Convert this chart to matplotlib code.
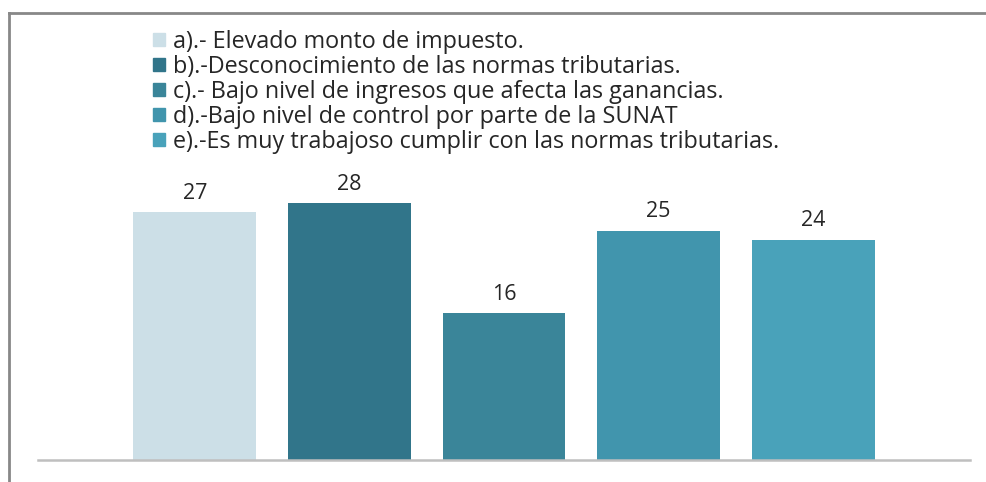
import matplotlib as mpl
mpl.use('Agg')
import matplotlib.pyplot as plt
from matplotlib.lines import Line2D
import numpy as np

plt.rcParams['font.family'] = ['Open Sans', 'DejaVu Sans']

labels = [
    'a).- Elevado monto de impuesto.',
    'b).-Desconocimiento de las normas tributarias.',
    'c).- Bajo nivel de ingresos que afecta las ganancias.',
    'd).-Bajo nivel de control por parte de la SUNAT',
    'e).-Es muy trabajoso cumplir con las normas tributarias.',
]
values = [27, 28, 16, 25, 24]
colors = ['#CCDFE7', '#31758A', '#3A8599', '#4195AD', '#49A2BA']

W, H = 986, 482
fig = plt.figure(figsize=(W / 100, H / 100), dpi=100)
ax = fig.add_axes([38 / W, 22 / H, 932 / W, 446 / H])

x = np.arange(len(values))
bars = ax.bar(x, values, 0.796, color=colors, edgecolor='none')
for xi, v in zip(x, values):
    ax.annotate(str(v), (xi, v), xytext=(0, 6), textcoords='offset points',
                ha='center', va='bottom', fontsize=15.5, color='#262626')

ax.set_xlim(-1.016, 5.016)
ax.set_ylim(0, 48.6)
for s in ['top', 'right', 'left']:
    ax.spines[s].set_visible(False)
ax.spines['bottom'].set_color('#BFBFBF')
ax.spines['bottom'].set_linewidth(1.8)
ax.set_xticks([])
ax.set_yticks([])

handles = [plt.Rectangle((0, 0), 1, 1, color=c) for c in colors]
fig.legend(handles, labels, loc='upper left', bbox_to_anchor=(153 / W, 1 - 30 / H),
           frameon=False, fontsize=16.8, handlelength=0.5, handleheight=0.5,
           handletextpad=0.35, labelspacing=0.04, borderpad=0, borderaxespad=0,
           labelcolor='#262626')

# outer frame (top and left edges visible)
fig.add_artist(Line2D([9 / W, 1], [1 - 13 / H, 1 - 13 / H], color='#888888', lw=2))
fig.add_artist(Line2D([9 / W, 9 / W], [0, 1 - 13 / H], color='#888888', lw=2))

fig.savefig('out.png', dpi=100)
